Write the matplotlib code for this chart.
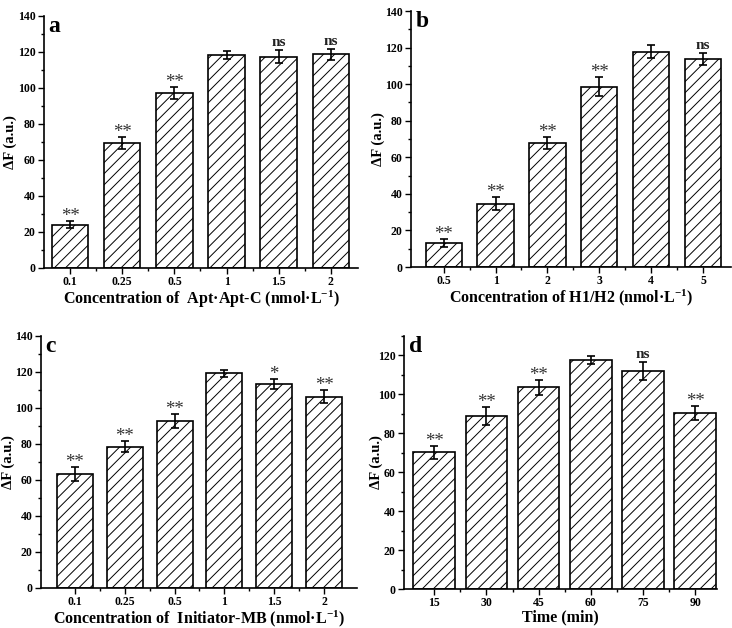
import matplotlib
matplotlib.use("Agg")
import matplotlib.pyplot as plt
from matplotlib.ticker import MultipleLocator, FixedLocator
import numpy as np

plt.rcParams['font.family'] = ['Liberation Serif', 'DejaVu Serif']
plt.rcParams['font.weight'] = 'bold'
plt.rcParams['mathtext.fontset'] = 'custom'
plt.rcParams['mathtext.rm'] = 'Liberation Serif:bold'
plt.rcParams['mathtext.bf'] = 'Liberation Serif:bold'
plt.rcParams['mathtext.it'] = 'Liberation Serif:bold'
plt.rcParams['hatch.color'] = '#606060'
plt.rcParams['hatch.linewidth'] = 0.7

# Panel a
a_cats = ['0.1', '0.25', '0.5', '1', '1.5', '2']
a_vals = [24.1, 69.5, 97.2, 118.3, 117.4, 118.7]
a_errs = [1.8, 3.3, 3.2, 2.1, 3.6, 3.0]
a_sig = ['**', '**', '**', '', 'ns', 'ns']
# Panel b
b_cats = ['0.5', '1', '2', '3', '4', '5']
b_vals = [13.0, 34.5, 67.9, 98.7, 117.7, 113.7]
b_errs = [2.2, 3.6, 3.1, 5.4, 3.6, 3.2]
b_sig = ['**', '**', '**', '**', '', 'ns']
# Panel c
c_cats = ['0.1', '0.25', '0.5', '1', '1.5', '2']
c_vals = [63.3, 78.5, 92.8, 119.2, 113.3, 106.2]
c_errs = [4.1, 3.2, 3.7, 2.0, 2.7, 3.6]
c_sig = ['**', '**', '**', '', '*', '**']
# Panel d
d_cats = ['15', '30', '45', '60', '75', '90']
d_vals = [70.3, 89.0, 103.7, 117.8, 111.9, 90.3]
d_errs = [3.3, 4.5, 3.8, 2.1, 4.5, 3.7]
d_sig = ['**', '**', '**', '', 'ns', '**']

W, H = 732, 628
fig = plt.figure(figsize=(W / 100, H / 100), dpi=100)


def axes_px(x0, y0, x1, y1):
    return fig.add_axes([x0 / W, (H - y1) / H, (x1 - x0) / W, (y1 - y0) / H])


panels = [
    dict(box=(44, 16, 358, 268), cats=a_cats, vals=a_vals, errs=a_errs, sig=a_sig,
         xlim=(-0.5, 5.52), ylim=(0, 140), width=0.7, letter='a', ylab_px=34,
         xlabel='Concentration of  Apt·Apt-C (nmol·L$^{-1}$)'),
    dict(box=(411, 11, 731, 267), cats=b_cats, vals=b_vals, errs=b_errs, sig=b_sig,
         xlim=(-0.63, 5.54), ylim=(0, 140), width=0.7, letter='b', ylab_px=33,
         xlabel='Concentration of H1/H2 (nmol·L$^{-1}$)'),
    dict(box=(41, 336, 357, 588), cats=c_cats, vals=c_vals, errs=c_errs, sig=c_sig,
         xlim=(-0.68, 5.66), ylim=(0, 140), width=0.72, letter='c', ylab_px=33,
         xlabel='Concentration of  Initiator-MB (nmol·L$^{-1}$)'),
    dict(box=(404, 336, 717, 589), cats=d_cats, vals=d_vals, errs=d_errs, sig=d_sig,
         xlim=(-0.58, 5.42), ylim=(0, 130), width=0.8, letter='d', ylab_px=28,
         xlabel='Time (min)'),
]

for p in panels:
    ax = axes_px(*p['box'])
    x = np.arange(len(p['cats']))
    ax.bar(x, p['vals'], width=p['width'], color='white', edgecolor='black',
           linewidth=1.2, hatch='///', zorder=2)
    ax.errorbar(x, p['vals'], yerr=p['errs'], fmt='none', ecolor='black',
                elinewidth=1.2, capsize=3, capthick=1.2, zorder=3)
    for xi, v, e, s in zip(x, p['vals'], p['errs'], p['sig']):
        if not s:
            continue
        if s == 'ns':
            ax.text(xi, v + e + 0.6, s, ha='center', va='bottom', fontsize=11,
                    fontweight='bold', color='#222222')
        else:
            ax.text(xi, v + e - 2.2, s, ha='center', va='bottom', fontsize=13.5,
                    fontweight='normal', color='#333333')
    ax.set_xlim(*p['xlim'])
    ax.set_ylim(*p['ylim'])
    ax.set_xticks(x)
    ax.set_xticklabels(p['cats'])
    ax.xaxis.set_minor_locator(FixedLocator(x[:-1] + 0.5))
    ax.yaxis.set_major_locator(MultipleLocator(20))
    ax.yaxis.set_minor_locator(MultipleLocator(10))
    for side in ['top', 'right']:
        ax.spines[side].set_visible(False)
    for side in ['left', 'bottom']:
        ax.spines[side].set_linewidth(1.2)
    ax.tick_params(axis='both', which='major', direction='out', length=4, width=1.0,
                   labelsize=8.5, pad=2)
    ax.tick_params(axis='both', which='minor', direction='out', length=2, width=1.0)
    for lab in ax.get_xticklabels() + ax.get_yticklabels():
        lab.set_fontweight('bold')
    ax.set_xlabel(p['xlabel'], fontsize=11.5, fontweight='bold', labelpad=0)
    ax.set_ylabel('ΔF (a.u.)', fontsize=10.5, fontweight='bold')
    ax.yaxis.label.set_va('center')
    bw = p['box'][2] - p['box'][0]
    ax.yaxis.set_label_coords(-p['ylab_px'] / bw, 0.5)
    ax.text(0.015, 1.0, p['letter'], transform=ax.transAxes, ha='left', va='top',
            fontsize=17, fontweight='bold')

fig.savefig('out.png', dpi=100)
